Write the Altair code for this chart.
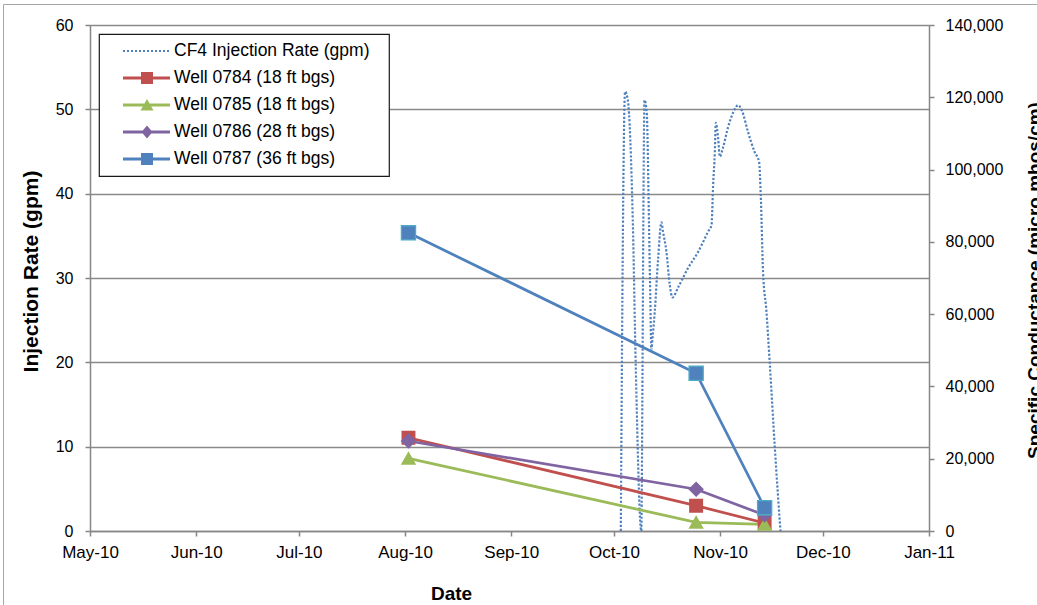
import altair as alt
import pandas as pd

# CF4 injection rate record (gpm)
cf4_time = [
    "2010/10/03 00:00", "2010/10/04 06:00", "2010/10/05 01:00", "2010/10/06 12:00", "2010/10/07 09:00",
    "2010/10/09 00:00", "2010/10/09 07:00", "2010/10/09 14:00", "2010/10/09 22:00", "2010/10/10 14:00",
    "2010/10/11 06:00", "2010/10/11 15:00", "2010/10/11 22:00", "2010/10/12 08:00", "2010/10/12 22:00",
    "2010/10/13 22:00", "2010/10/14 21:00", "2010/10/15 08:00", "2010/10/16 08:00", "2010/10/17 07:00",
    "2010/10/18 02:00", "2010/10/19 18:00", "2010/10/22 16:00", "2010/10/25 14:00", "2010/10/28 12:00",
    "2010/10/29 12:00", "2010/10/29 23:00", "2010/10/30 11:00", "2010/10/30 18:00", "2010/10/31 10:00",
    "2010/10/31 22:00", "2010/11/01 21:00", "2010/11/03 08:00", "2010/11/04 19:00", "2010/11/06 06:00",
    "2010/11/07 10:00", "2010/11/09 04:00", "2010/11/11 03:00", "2010/11/12 09:00", "2010/11/12 21:00",
    "2010/11/13 13:00", "2010/11/14 12:00", "2010/11/15 12:00", "2010/11/16 23:00", "2010/11/18 15:00",
]
cf4_gpm = [
    0, 52.1, 51.1, 36.9, 19.4,
    0, 15.5, 36.9, 51.1, 49.6,
    36.0, 27.4, 21.5, 23.2, 26.0,
    32.4, 36.6, 35.5, 33.1, 29.2,
    27.7, 28.9, 31.2, 33.1, 35.5,
    36.3, 41.0, 44.9, 48.4, 46.6,
    44.4, 45.5, 47.9, 49.6, 50.5,
    49.8, 47.3, 44.9, 43.8, 39.8,
    30.7, 26.2, 19.9, 10.0, 0,
]

# Specific conductance in monitoring wells (micro mhos/cm)
sample_dates = ["2010/08/02 00:00", "2010/10/25 00:00", "2010/11/14 00:00"]
well_0784 = [25800, 7000, 2200]
well_0785 = [20100, 2400, 1800]
well_0786 = [24900, 11550, 4400]
well_0787 = [82500, 43650, 6450]

series_names = [
    "CF4 Injection Rate (gpm)",
    "Well 0784 (18 ft bgs)",
    "Well 0785 (18 ft bgs)",
    "Well 0786 (28 ft bgs)",
    "Well 0787 (36 ft bgs)",
]
series_colors = ["#4f81bd", "#c0504d", "#9bbb59", "#8064a2", "#4f81bd"]
well_shapes = ["square", "triangle-up", "diamond", "square"]
well_edges = ["#c0504d", "#9bbb59", "#8064a2", "#4bacc6"]

FONT = "Liberation Sans"

cf4_df = pd.DataFrame({"date": cf4_time, "gpm": cf4_gpm})

well_values = [well_0784, well_0785, well_0786, well_0787]
rows = []
for name, vals in zip(series_names[1:], well_values):
    for d, v in zip(sample_dates, vals):
        rows.append({"date": d, "cond": v, "well": name})
wells_df = pd.DataFrame(rows)

# ---- legend glyphs: line + marker drawn as custom symbol paths ----
SYM = 18          # nominal symbol box (px)
U = SYM / 2.0     # pixels per path unit


def r(x0, y0, x1, y1):
    return f"M{x0:.4f},{y0:.4f}H{x1:.4f}V{y1:.4f}H{x0:.4f}Z"


anchor = "M-1,0Z M29.4,0Z "
x_l, x_r, mc = 7 / U, 54 / U, 31 / U
seg = r(x_l, -1.5 / U, x_r, 1.5 / U)
sq = r(mc - 6 / U, -6 / U, mc + 6 / U, 6 / U)
tri = f"M{mc:.4f},{-6 / U:.4f}L{mc + 6.5 / U:.4f},{5.5 / U:.4f}L{mc - 6.5 / U:.4f},{5.5 / U:.4f}Z"
dia = f"M{mc:.4f},{-6.5 / U:.4f}L{mc + 5.5 / U:.4f},0L{mc:.4f},{6.5 / U:.4f}L{mc - 5.5 / U:.4f},0Z"
dots = "".join(r(x_l + 4 * i / U, -1 / U, x_l + (4 * i + 2) / U, 1 / U) for i in range(12))
legend_paths = [
    anchor + dots,
    anchor + seg + sq,
    anchor + seg + tri,
    anchor + seg + dia,
    anchor + seg + sq,
]

month_ticks = [alt.DateTime(year=2010, month=m, date=1) for m in range(5, 13)] + [
    alt.DateTime(year=2011, month=1, date=1)
]

x_enc = alt.X(
    "date:T",
    scale=alt.Scale(
        domain=[alt.DateTime(year=2010, month=5, date=1), alt.DateTime(year=2011, month=1, date=1)]
    ),
    axis=alt.Axis(
        title="Date",
        values=month_ticks,
        format="%b-%y",
        grid=False,
        labelFontSize=17,
        labelPadding=8,
        titleX=361,
        titleY=68,
        titleAlign="center",
        titleBaseline="alphabetic",
    ),
)

cf4_line = (
    alt.Chart(cf4_df)
    .mark_line(color="#4f81bd", strokeWidth=2.2, strokeDash=[2.2, 1.8], interpolate="monotone")
    .encode(
        x=x_enc,
        y=alt.Y(
            "gpm:Q",
            scale=alt.Scale(domain=[0, 60]),
            axis=alt.Axis(
                title="Injection Rate (gpm)",
                orient="left",
                values=list(range(0, 61, 10)),
                grid=True,
                gridColor="#8a8a8a",
                gridWidth=1.5,
                labelPadding=12,
                titleFontSize=21,
                titleAngle=270,
                titleX=-59,
                titleY=246,
                titleAlign="center",
                titleBaseline="middle",
            ),
        ),
    )
)

cond_y = alt.Y(
    "cond:Q",
    scale=alt.Scale(domain=[0, 140000]),
    axis=alt.Axis(
        title="Specific Conductance (micro mhos/cm)",
        orient="right",
        values=list(range(0, 140001, 20000)),
        format=",d",
        grid=False,
        labelPadding=11,
        titleAngle=270,
        titleX=111,
        titleY=255,
        titleAlign="center",
        titleBaseline="alphabetic",
    ),
)
well_color = alt.Color(
    "well:N", scale=alt.Scale(domain=series_names[1:], range=series_colors[1:]), legend=None
)

well_lines = (
    alt.Chart(wells_df)
    .mark_line(strokeWidth=2.75)
    .encode(x=x_enc, y=cond_y, color=well_color, detail="well:N")
)
well_points = (
    alt.Chart(wells_df)
    .mark_point(filled=True, opacity=1, strokeWidth=1.3)
    .encode(
        x=x_enc,
        y=cond_y,
        color=well_color,
        shape=alt.Shape(
            "well:N", scale=alt.Scale(domain=series_names[1:], range=well_shapes), legend=None
        ),
        stroke=alt.Stroke(
            "well:N", scale=alt.Scale(domain=series_names[1:], range=well_edges), legend=None
        ),
        size=alt.Size(
            "well:N",
            scale=alt.Scale(domain=series_names[1:], range=[160, 200, 180, 160]),
            legend=None,
        ),
    )
)
wells = alt.layer(well_lines, well_points)

legend_props = dict(
    title=None,
    orient="none",
    legendX=9,
    legendY=9,
    padding=8,
    rowPadding=9,
    symbolSize=SYM * SYM,
    symbolStrokeWidth=0,
    symbolOpacity=1,
    labelOffset=49,
    labelFontSize=17.5,
    labelFont=FONT,
    labelColor="#000000",
    labelLimit=0,
    fillColor="#ffffff",
    strokeColor="#1a1a1a",
)
legend_layer = (
    alt.Chart(pd.DataFrame({"series": pd.Series([], dtype=str)}))
    .mark_point(filled=True, opacity=1, size=SYM * SYM, strokeWidth=0)
    .encode(
        color=alt.Color(
            "series:N",
            scale=alt.Scale(domain=series_names, range=series_colors),
            legend=alt.Legend(**legend_props),
        ),
        shape=alt.Shape(
            "series:N",
            scale=alt.Scale(domain=series_names, range=legend_paths),
            legend=alt.Legend(**legend_props),
        ),
    )
)

# thin chart-area frame along the left and top edges
frame_src = pd.DataFrame({"k": [0]})
frame_left = (
    alt.Chart(frame_src)
    .mark_rule(color="#a6a6a6", strokeWidth=1)
    .encode(x=alt.value(-86.5), y=alt.value(-20.5), y2=alt.value(600))
)
frame_top = (
    alt.Chart(frame_src)
    .mark_rule(color="#a6a6a6", strokeWidth=1)
    .encode(x=alt.value(-86.5), x2=alt.value(960), y=alt.value(-20.5))
)

chart = (
    alt.layer(frame_left, frame_top, cf4_line, wells, legend_layer)
    .resolve_scale(y="independent", color="independent", shape="independent",
                   stroke="independent", size="independent")
    .properties(
        width=839,
        height=506,
        autosize=alt.AutoSizeParams(type="none"),
        padding={"left": 90, "top": 25, "right": 108, "bottom": 74},
        background="#ffffff",
    )
    .configure_view(stroke=None)
    .configure_legend(strokeWidth=1.2)
    .configure_axis(
        labelFont=FONT,
        labelFontSize=16,
        labelColor="#000000",
        labelFlush=False,
        titleFont=FONT,
        titleFontSize=19,
        titleFontWeight="bold",
        titleColor="#000000",
        domainColor="#868686",
        domainWidth=1.5,
        tickColor="#868686",
        tickWidth=1.5,
        tickSize=5,
    )
)

chart.save("out.html", embed_options={"renderer": "svg", "actions": False})
